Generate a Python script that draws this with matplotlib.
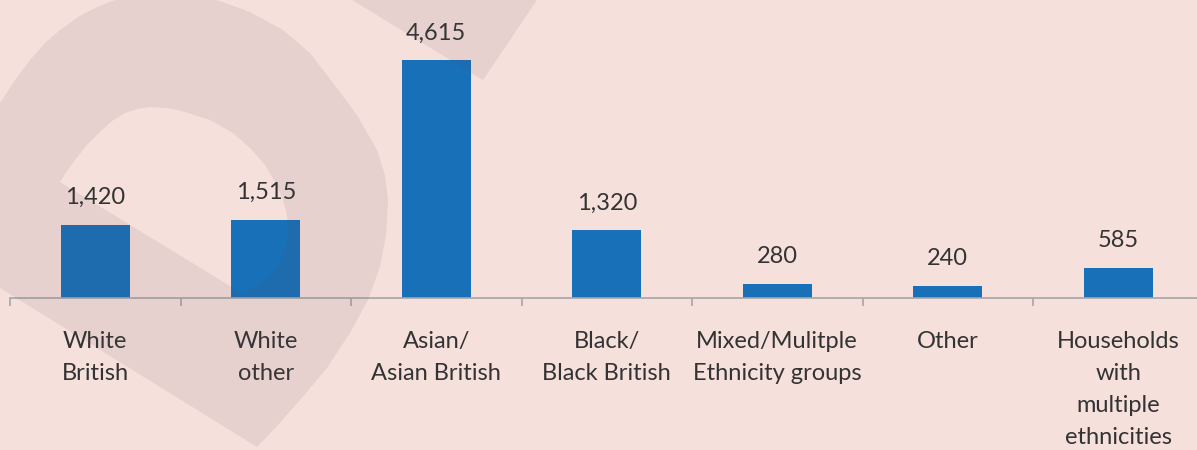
import matplotlib
matplotlib.use('Agg')
import matplotlib.pyplot as plt
from matplotlib.path import Path
from matplotlib.patches import PathPatch, Polygon

categories = ['White\nBritish', 'White\nother', 'Asian/\nAsian British', 'Black/\nBlack British',
              'Mixed/Mulitple\nEthnicity groups', 'Other', 'Households\nwith\nmultiple\nethnicities']
values = [1420, 1515, 4615, 1320, 280, 240, 585]
value_labels = ['1,420', '1,515', '4,615', '1,320', '280', '240', '585']

BG = '#f5e0dc'
BAR = '#1770b8'
TEXT = '#333333'
GRID = '#a6a6a6'

plt.rcParams['font.family'] = ['Lato', 'DejaVu Sans']

W, H = 1197, 450
fig = plt.figure(figsize=(W / 100, H / 100), dpi=100, facecolor=BG)

# main chart axes (pixel layout)
ax = fig.add_axes([10 / W, 152 / H, 1193.5 / W, 298 / H])
ax.set_facecolor('none')
x = list(range(len(categories)))
ax.bar(x, values, width=0.405, color=BAR, zorder=2)
ax.set_xlim(-0.5, len(categories) - 0.5)
ax.set_ylim(0, 5779)

for xi, v, lab in zip(x, values, value_labels):
    ax.annotate(lab, (xi, v), xytext=(0, 19.5), textcoords='offset points',
                ha='center', va='center', fontsize=17, color=TEXT)

for s in ['top', 'right', 'left']:
    ax.spines[s].set_visible(False)
ax.spines['bottom'].set_color(GRID)
ax.spines['bottom'].set_linewidth(1.2)
ax.set_yticks([])
ax.set_xticks(x)
ax.set_xticklabels(categories, fontsize=17, color=TEXT, linespacing=1.64)
ax.set_xticks([i - 0.5 for i in range(len(categories) + 1)], minor=True)
ax.tick_params(axis='x', which='major', length=0, pad=24)
ax.tick_params(axis='x', which='minor', length=6, width=1.2, color=GRID)

# faint watermark shape drawn over the chart
wm = fig.add_axes([0, 0, 1, 1], zorder=5)
wm.set_xlim(0, W)
wm.set_ylim(H, 0)
wm.axis('off')
wm.patch.set_alpha(0)

outer = [(0, 288), (0, 103), (15, 80), (30, 60), (45, 43), (60, 30), (78, 17), (95, 8),
         (112, 1), (130, -4), (150, -7), (175, -7), (196, -4), (217, 0), (250, 12), (283, 30),
         (310, 53), (333, 83), (357, 115), (377, 150), (385, 175), (388, 200), (386, 235),
         (380, 267), (368, 300), (350, 333), (327, 368), (300, 400), (278, 425), (257, 447)]
inner = [(60, 182), (243, 294), (256, 287), (268, 278), (280, 262), (286, 248), (288, 233),
         (287, 215), (283, 200), (275, 182), (265, 165), (250, 148), (233, 133), (210, 120),
         (185, 112), (167, 108), (150, 107), (137, 109), (125, 113), (112, 121), (100, 132),
         (87, 145), (75, 160), (67, 171)]
verts = outer + [outer[0]] + inner + [inner[0]]
codes = ([Path.MOVETO] + [Path.LINETO] * (len(outer) - 1) + [Path.CLOSEPOLY]
         + [Path.MOVETO] + [Path.LINETO] * (len(inner) - 1) + [Path.CLOSEPOLY])
wm_color = (100 / 255, 80 / 255, 90 / 255)
wm.add_patch(PathPatch(Path(verts, codes), facecolor=wm_color, edgecolor='none', alpha=0.1))
wm.add_patch(Polygon([(352, 0), (483, 80), (537, 0)], closed=True,
                     facecolor=wm_color, edgecolor='none', alpha=0.1))

fig.savefig('out.png', dpi=100, facecolor=BG)
